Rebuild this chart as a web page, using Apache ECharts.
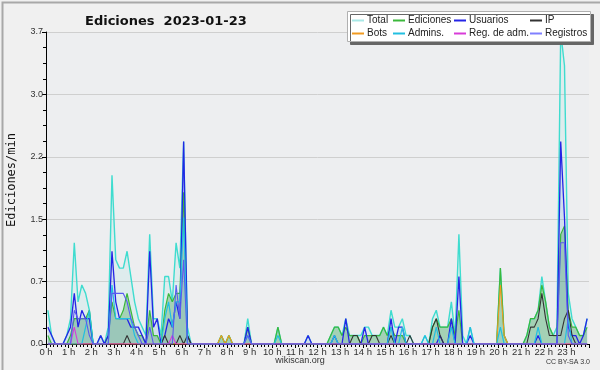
<!DOCTYPE html>
<html><head><meta charset="utf-8">
<script src="https://cdn.jsdelivr.net/npm/echarts@6/dist/echarts.min.js"></script>
<style>html,body{margin:0;padding:0;background:#f0f0f0}#c{width:600px;height:370px}</style>
</head><body><div id="c"></div>
<script>
// 10-minute slots, 6 per hour (values in ediciones/min)
const hourLabels = Array.from({length:24},(_,h)=>h+' h');
const total = [
 0.4,0.1,0,0,0,0.1,  0.3,1.2,0.5,0.7,0.6,0.4,  0,0,0.1,0,0.2,2.0,  1.0,0.9,0.9,1.1,0.8,0.5,
 0.3,0.2,0.1,1.3,0.3,0.3,  0.1,0.8,0.8,0.5,1.2,0.9,  2.4,0.2,0,0,0,0,  0,0,0,0,0.1,0,
 0.1,0,0,0,0,0.3,  0,0,0,0,0,0,  0,0.2,0,0,0,0,  0,0,0,0.1,0,0,
 0,0,0,0.1,0.2,0.2,  0.1,0.3,0.1,0.1,0.1,0.1,  0.2,0.2,0.1,0.1,0.1,0.2,  0.1,0.4,0.2,0.2,0.3,0.1,
 0.1,0,0,0,0.1,0,  0.3,0.4,0.2,0.2,0.2,0.5,  0.1,1.3,0.1,0,0.2,0,  0,0,0,0,0,0,
 0.9,0.1,0,0,0,0,  0,0.1,0.3,0.3,0.4,0.8,  0.5,0.2,0.1,0.2,3.7,3.3,  0.6,0.3,0.2,0.1,0.1,0.3
];
const ediciones = [
 0.1,0,0,0,0,0,  0.1,0.3,0.3,0.3,0.3,0.4,  0,0,0,0,0.1,0.5,  0.3,0.3,0.4,0.6,0.4,0.2,
 0.1,0.1,0,0.4,0.1,0.1,  0,0.4,0.6,0.5,0.6,0.6,  1.8,0.1,0,0,0,0,  0,0,0,0,0.1,0,
 0.1,0,0,0,0,0.2,  0,0,0,0,0,0,  0,0.2,0,0,0,0,  0,0,0,0,0,0,
 0,0,0,0.1,0.2,0.2,  0.1,0.2,0.1,0.1,0.1,0,  0.1,0.1,0.1,0.1,0.1,0.2,  0.1,0.2,0.1,0.1,0.1,0,
 0,0,0,0,0,0,  0.2,0.3,0.2,0.2,0.2,0.3,  0.1,0.4,0,0,0,0,  0,0,0,0,0,0,
 0.9,0.1,0,0,0,0,  0,0.1,0.3,0.3,0.4,0.7,  0.5,0.2,0.1,0.1,1.3,1.4,  0.4,0.2,0.2,0.1,0.1,0.2
];
const usuarios = [
 0.2,0.1,0,0,0,0.1,  0.2,0.6,0.2,0.4,0.3,0.3,  0,0,0.1,0,0.1,1.1,  0.5,0.3,0.3,0.3,0.2,0.2,
 0.2,0.1,0,1.1,0.2,0.3,  0,0.1,0.3,0.2,0.5,0.3,  2.4,0.1,0,0,0,0,  0,0,0,0,0,0,
 0,0,0,0,0,0.2,  0,0,0,0,0,0,  0,0,0,0,0,0,  0,0,0,0.1,0,0,
 0,0,0,0,0.1,0,  0,0.3,0,0,0,0,  0.2,0,0,0,0,0,  0,0.3,0,0.2,0.2,0,
 0,0,0,0,0,0,  0,0,0.1,0,0,0.3,  0,0.8,0,0,0.1,0,  0,0,0,0,0,0,
 0,0,0,0,0,0,  0,0,0,0,0.1,0,  0,0,0,0,2.4,1.5,  0.2,0.1,0.1,0,0.1,0.3
];
const ip = [
 0,0,0,0,0,0,  0,0,0,0,0,0,  0,0,0,0,0,0,  0,0,0,0.1,0,0,
 0,0,0,0,0,0,  0,0.1,0,0,0,0.1,  0,0.1,0,0,0,0,  0,0,0,0,0,0,
 0,0,0,0,0,0,  0,0,0,0,0,0,  0,0,0,0,0,0,  0,0,0,0,0,0,
 0,0,0,0,0,0,  0,0,0,0.1,0.1,0,  0,0,0.1,0.1,0,0,  0,0.1,0,0,0,0,
 0.1,0,0,0,0,0,  0.2,0.3,0.1,0,0,0,  0,0,0,0,0,0,  0,0,0,0,0,0,
 0,0,0,0,0,0,  0,0,0.2,0.2,0.3,0.6,  0.3,0.1,0.1,0.1,0.1,0.3,  0.4,0.1,0,0,0,0
];
const bots = [
 0,0,0,0,0,0,  0,0,0,0,0,0,  0,0,0,0,0,0,  0,0,0,0,0,0,
 0,0,0,0,0,0,  0,0,0,0,0,0,  0,0,0,0,0,0,  0,0,0,0,0.1,0,
 0.1,0,0,0,0,0,  0,0,0,0,0,0,  0,0,0,0,0,0,  0,0,0,0,0,0,
 0,0,0,0,0,0,  0,0,0,0,0,0,  0,0,0,0,0,0,  0,0,0,0,0,0,
 0,0,0,0,0,0,  0,0,0,0,0,0,  0,0,0,0,0,0,  0,0,0,0,0,0,
 0.7,0.1,0,0,0,0,  0,0,0,0,0,0,  0,0,0,0,0,0,  0,0,0,0,0,0
];
const admins = [
 0,0,0,0,0,0,  0,0,0,0,0.2,0.4,  0,0,0,0,0,0.7,  0.3,0.3,0.3,0.3,0.3,0.1,
 0,0,0,0,0,0,  0,0.3,0.5,0.2,0.5,0.5,  1.5,0,0,0,0,0,  0,0,0,0,0,0,
 0,0,0,0,0,0.1,  0,0,0,0,0,0,  0,0.1,0,0,0,0,  0,0,0,0,0,0,
 0,0,0,0,0.1,0,  0,0,0,0,0,0,  0,0,0,0,0,0,  0,0.2,0,0,0.2,0,
 0,0,0,0,0.1,0,  0,0.2,0,0,0,0.2,  0,0,0,0,0.2,0,  0,0,0,0,0,0,
 0.2,0,0,0,0,0,  0,0,0,0,0.2,0,  0,0,0,0,0,0,  0.3,0,0,0,0,0
];
const regAdm = [
 0,0,0,0,0,0,  0,0.2,0,0,0,0,  0,0,0,0,0,0,  0,0,0,0,0,0,
 0,0,0,0,0,0,  0,0,0,0.1,0,0,  0,0,0,0,0,0,  0,0,0,0,0,0,
 0,0,0,0,0,0,  0,0,0,0,0,0,  0,0,0,0,0,0,  0,0,0,0,0,0,
 0,0,0,0,0,0,  0,0,0,0,0,0,  0,0,0,0,0,0,  0,0,0,0,0,0,
 0,0,0,0,0,0,  0,0,0,0,0,0,  0,0,0,0,0,0,  0,0,0,0,0,0,
 0,0,0,0,0,0,  0,0,0,0,0,0,  0,0,0,0,0,0,  0,0,0,0,0,0
];
const registros = [
 0,0,0,0,0,0,  0,0.4,0.3,0.3,0.3,0.1,  0,0,0,0,0,0.6,  0.6,0.6,0.6,0.5,0.3,0.2,
 0.1,0,0,0.2,0,0,  0,0,0,0,0.7,0.3,  1.0,0,0,0,0,0,  0,0,0,0,0,0,
 0,0,0,0,0,0.1,  0,0,0,0,0,0,  0,0,0,0,0,0,  0,0,0,0,0,0,
 0,0,0,0,0,0,  0,0,0,0,0,0,  0,0,0,0,0,0,  0,0,0,0,0,0,
 0,0,0,0,0,0,  0,0,0,0,0,0,  0,0,0,0,0,0,  0,0,0,0,0,0,
 0,0,0,0,0,0,  0,0,0,0,0,0,  0,0,0,0,1.2,1.2,  0.1,0,0,0,0,0
];
const yTicks = ['0.0','0.7','1.5','2.2','3.0','3.7'];

const pts = arr => arr.map((v,i)=>[i+0.5,v]);
const FONT = '"Liberation Sans", Arial, sans-serif';
function mk(name, data, color, width, area){
  const s = {name, type:'line', data:pts(data), symbol:'none', showSymbol:false,
    lineStyle:{color, width}, itemStyle:{color}, silent:true, z:2};
  if(area) s.areaStyle = {color: area, origin:'start'};
  return s;
}
const series = [
  mk('Total', total, '#3fdccf', 1.4, 'rgba(80,220,210,0.13)'),
  mk('Ediciones', ediciones, '#3cb83c', 1.2, 'rgba(40,150,60,0.45)'),
  mk('Usuarios', usuarios, '#2424e6', 1.3, 'rgba(70,100,230,0.13)'),
  mk('IP', ip, '#333333', 1.1),
  mk('Bots', bots, '#f09a20', 1.1),
  mk('Admins.', admins, '#22bfe0', 1.2),
  mk('Reg. de adm.', regAdm, '#d83cd8', 1.1),
  mk('Registros', registros, '#5a5af0', 1.1)
];
function leg(left, names){
  return {left, top:15, orient:'vertical', itemWidth:12, itemHeight:2, itemGap:2, icon:'rect',
    selectedMode:false, textStyle:{fontFamily:FONT, fontSize:10, color:'#222', lineHeight:11, padding:[0,0,0,-2]},
    padding:0, data:names, z:10};
}
const chart = echarts.init(document.getElementById('c'), null, {renderer:'canvas'});
chart.setOption({
  animation:false,
  backgroundColor:'#f0f0f0',
  title:{text:'Ediciones  2023-01-23', left:80, top:10,
    textStyle:{fontFamily:'"DejaVu Sans", sans-serif', fontWeight:'bold', fontSize:13, color:'#111'}},
  legend:[
    leg(352, [{name:'Total', itemStyle:{color:'#a8e8e6'}}, 'Bots']),
    leg(393, ['Ediciones', 'Admins.']),
    leg(454, ['Usuarios', 'Reg. de adm.']),
    leg(530, ['IP', {name:'Registros', itemStyle:{color:'#8080ff'}}])
  ],
  grid:{left:46, right:11, top:32, bottom:26, show:true, backgroundColor:'#edeef0', borderWidth:0},
  xAxis:{type:'value', min:0, max:144, interval:6,
    axisLine:{show:true, onZero:false, lineStyle:{color:'#000', width:1}},
    axisTick:{show:true, length:4, lineStyle:{color:'#000'}},
    minorTick:{show:true, splitNumber:6, length:3, lineStyle:{color:'#000'}},
    splitLine:{show:false},
    axisLabel:{fontFamily:FONT, fontSize:9.5, color:'#333', margin:3,
      formatter:v => v<144 ? hourLabels[Math.round(v/6)] : ''}},
  yAxis:{type:'value', min:0, max:3.7, interval:0.74,
    axisLine:{show:true, lineStyle:{color:'#000', width:1}},
    axisTick:{show:true, length:4, lineStyle:{color:'#000'}},
    minorTick:{show:true, splitNumber:4, length:3, lineStyle:{color:'#000'}},
    splitLine:{show:true, lineStyle:{color:'#cfcfcf', width:1}},
    axisLabel:{fontFamily:FONT, fontSize:9, color:'#333', margin:3,
      formatter:v => yTicks[Math.round(v/0.74)]}},
  graphic:[
    {type:'rect', left:0, top:0, shape:{width:599, height:369}, style:{fill:'none', stroke:'#a8a8a8', lineWidth:2}, z:-1, silent:true},
    {type:'rect', left:347, top:11, shape:{width:243, height:30},
      style:{fill:'#ffffff', stroke:'#b0b0b0', lineWidth:1, shadowColor:'#666', shadowOffsetX:3, shadowOffsetY:3, shadowBlur:0}, z:5, silent:true},
    {type:'text', x:12, y:180, rotation:Math.PI/2,
      style:{text:'Ediciones/min', font:'12px "DejaVu Sans Mono", monospace', fill:'#111', textAlign:'center', textVerticalAlign:'middle'}, silent:true},
    {type:'text', x:300, y:361, style:{text:'wikiscan.org', font:'9px '+FONT, fill:'#333', textAlign:'center', textVerticalAlign:'middle'}, silent:true},
    {type:'text', x:590, y:362, style:{text:'CC BY-SA 3.0', font:'7px '+FONT, fill:'#333', textAlign:'right', textVerticalAlign:'middle'}, silent:true}
  ],
  series
});
</script></body></html>
